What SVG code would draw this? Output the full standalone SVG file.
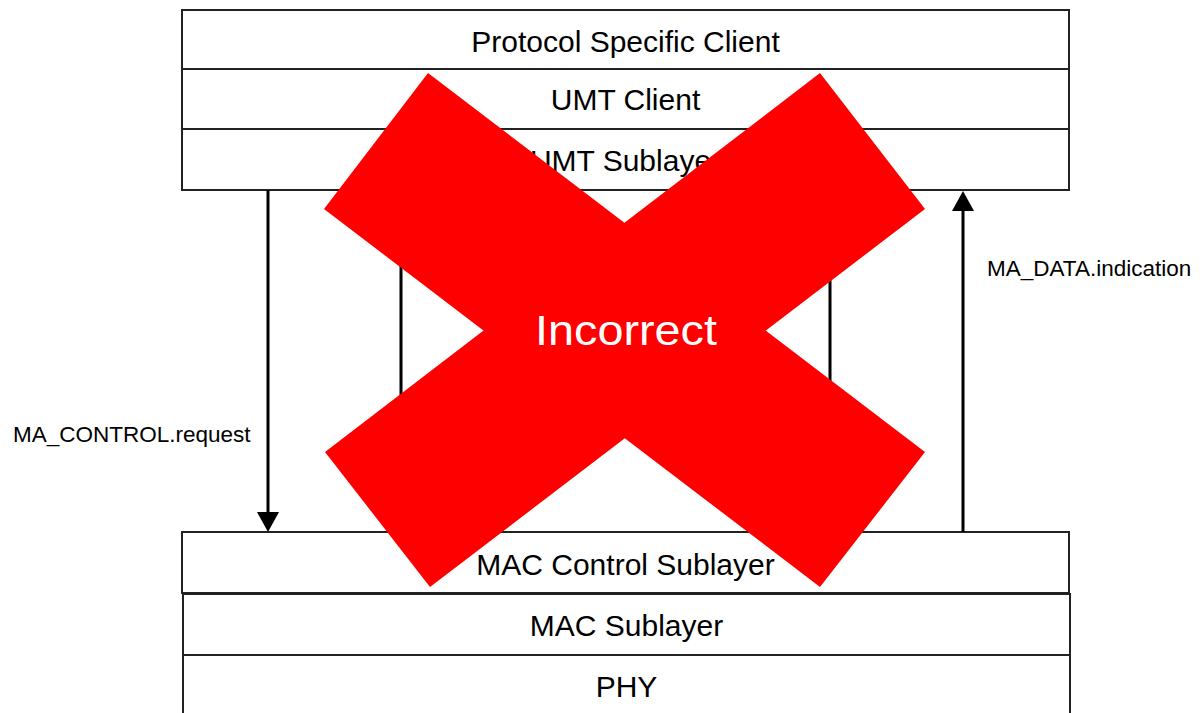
<svg xmlns="http://www.w3.org/2000/svg" width="1202" height="713" viewBox="0 0 1202 713">
<style>
.box{fill:#ffffff;stroke:#222222;stroke-width:2}
.lbl{font-family:"Liberation Sans",Arial,sans-serif;font-size:30px;fill:#000000;text-anchor:middle}
.side{font-family:"Liberation Sans",Arial,sans-serif;font-size:22.5px;fill:#000000}
.conn{stroke:#000000;stroke-width:3;fill:none}
.head{fill:#000000}
.xarm{fill:#ff0000}
</style>
<rect x="0" y="0" width="1202" height="713" fill="#ffffff"/>
<g id="protocol-specific-client"><rect class="box" x="182" y="10" width="887" height="59"/><text class="lbl" x="625.5" y="52">Protocol Specific Client</text></g>
<g id="umt-client"><rect class="box" x="182" y="69" width="887" height="60"/><text class="lbl" x="625.5" y="110">UMT Client</text></g>
<g id="umt-sublayer"><rect class="box" x="182" y="129" width="887" height="61"/><text class="lbl" x="625.5" y="171">UMT Sublayer</text></g>
<g id="mac-control-sublayer"><rect class="box" x="182" y="532" width="887" height="61"/><text class="lbl" x="625.5" y="575">MAC Control Sublayer</text></g>
<g id="mac-sublayer"><rect class="box" x="183" y="594" width="887" height="61"/><text class="lbl" x="626.5" y="636">MAC Sublayer</text></g>
<g id="phy"><rect class="box" x="183" y="655" width="887" height="70"/><text class="lbl" x="626.5" y="697">PHY</text></g>
<g id="connectors">
<line class="conn" x1="268" y1="190" x2="268" y2="513"/>
<polygon class="head" points="257,512 279,512 268,532"/>
<line class="conn" x1="963" y1="210" x2="963" y2="532"/>
<polygon class="head" points="952,211 974,211 963,191"/>
<line class="conn" x1="401" y1="190" x2="401" y2="532"/>
<line class="conn" x1="830" y1="190" x2="830" y2="532"/>
<text class="side" x="13" y="442">MA_CONTROL.request</text>
<text class="side" x="987" y="276">MA_DATA.indication</text>
</g>
<g id="incorrect-mark">
<polygon class="xarm" points="428,73 925,452 820,587 324,209"/>
<polygon class="xarm" points="820,73 925,209 430,587 325,452"/>
<text x="626" y="345" font-family="'Liberation Sans',Arial,sans-serif" font-size="43" fill="#ffffff" text-anchor="middle" textLength="182" lengthAdjust="spacingAndGlyphs">Incorrect</text>
</g>
</svg>
